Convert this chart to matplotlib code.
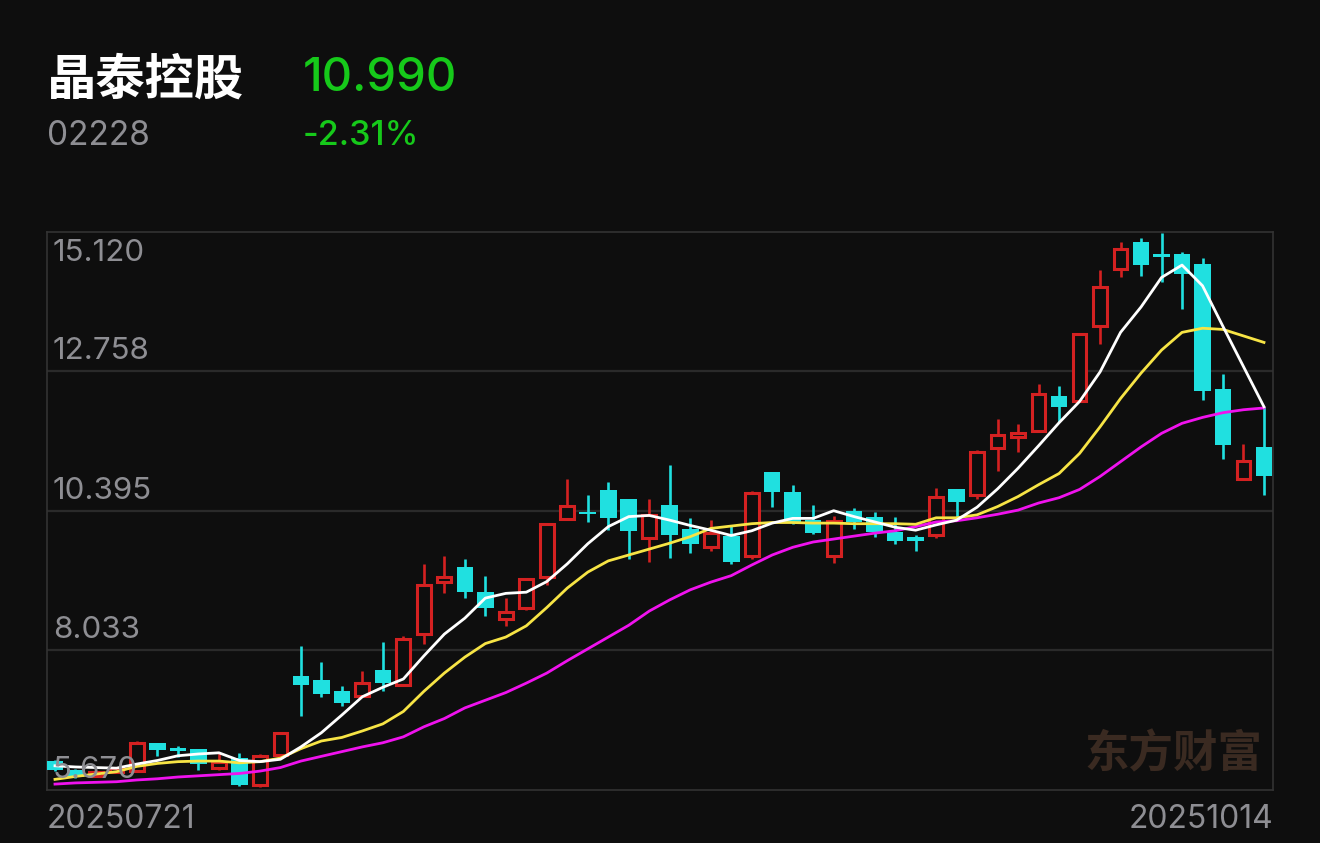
import matplotlib
matplotlib.use("Agg")
import matplotlib.pyplot as plt
from matplotlib.transforms import offset_copy

plt.rcParams["font.family"] = ["Noto Sans CJK SC", "DejaVu Sans"]
NUM_FONT = ["Inter", "DejaVu Sans"]

BG = "#0e0e0e"
RED = "#d42121"
CYAN = "#20e0e0"
GREEN = "#16c91a"
GRAY = "#8e8e93"

stock_name = "晶泰控股"
stock_code = "02228"
last_price = "10.990"
change_pct = "-2.31%"
first_date = "20250721"
last_date = "20251014"

price_ticks = [5.670, 8.033, 10.395, 12.758, 15.120]
tick_labels = ["5.670", "8.033", "10.395", "12.758", "15.120"]

opens = [6.16, 6.01, 5.91, 5.98, 6.00, 6.46, 6.38, 6.36, 6.04, 6.21,
         5.76, 6.26, 7.60, 7.53, 7.35, 7.27, 7.71, 7.45, 8.31, 9.19,
         9.45, 9.02, 8.57, 8.76, 9.28, 10.26, 10.37, 10.75, 10.59, 9.94,
         10.49, 10.09, 9.78, 9.97, 9.64, 11.05, 10.71, 10.24, 9.63, 10.40,
         10.30, 10.04, 9.95, 9.99, 10.77, 10.67, 11.47, 11.64, 11.75, 12.35,
         12.26, 13.52, 14.49, 14.95, 14.74, 14.75, 14.57, 12.46, 10.93, 11.48]
closes = [6.01, 5.89, 5.98, 6.04, 6.47, 6.35, 6.33, 6.11, 6.14, 5.76,
          6.25, 6.64, 7.45, 7.30, 7.15, 7.49, 7.48, 8.22, 9.15, 9.27,
          9.02, 8.76, 8.69, 9.24, 10.18, 10.48, 10.34, 10.28, 10.06, 10.32,
          9.99, 9.84, 10.02, 9.53, 10.70, 10.71, 10.19, 10.03, 10.23, 10.21,
          10.04, 9.89, 9.89, 10.63, 10.55, 11.40, 11.68, 11.71, 12.37, 12.15,
          13.39, 14.19, 14.83, 14.56, 14.70, 14.41, 12.42, 11.51, 11.25, 10.99]
highs = [6.17, 6.02, 6.00, 6.06, 6.50, 6.47, 6.42, 6.37, 6.31, 6.30,
         6.28, 6.65, 8.11, 7.84, 7.43, 7.69, 8.18, 8.27, 9.50, 9.64,
         9.59, 9.30, 8.93, 9.26, 10.19, 10.94, 10.67, 10.88, 10.59, 10.59,
         11.17, 10.28, 10.24, 10.16, 10.74, 11.06, 10.84, 10.50, 10.31, 10.45,
         10.37, 10.29, 9.99, 10.78, 10.77, 11.43, 11.95, 11.86, 12.54, 12.52,
         13.39, 14.47, 14.95, 15.02, 15.10, 14.78, 14.68, 12.72, 11.53, 12.16]
lows = [6.00, 5.87, 5.89, 5.96, 5.99, 6.24, 6.23, 6.01, 6.01, 5.74,
        5.72, 6.25, 6.93, 7.24, 7.10, 7.25, 7.35, 7.43, 8.15, 9.01,
        8.92, 8.61, 8.45, 8.71, 9.14, 10.26, 10.21, 10.07, 9.58, 9.53,
        9.60, 9.68, 9.71, 9.50, 9.59, 10.47, 10.18, 10.00, 9.51, 10.09,
        9.95, 9.84, 9.71, 9.93, 10.30, 10.59, 11.07, 11.39, 11.73, 11.91,
        12.26, 13.22, 14.36, 14.38, 14.27, 13.82, 12.28, 11.28, 10.93, 10.67]

ma5 = [6.08, 6.06, 6.05, 6.04, 6.11, 6.17, 6.25, 6.28, 6.30, 6.17,
       6.15, 6.19, 6.40, 6.64, 6.94, 7.25, 7.41, 7.55, 7.94, 8.31,
       8.58, 8.92, 9.00, 9.02, 9.20, 9.50, 9.84, 10.13, 10.30, 10.32,
       10.24, 10.15, 10.07, 9.98, 10.06, 10.19, 10.27, 10.27, 10.40, 10.30,
       10.21, 10.12, 10.07, 10.16, 10.24, 10.46, 10.77, 11.12, 11.50, 11.89,
       12.25, 12.75, 13.42, 13.85, 14.35, 14.56, 14.21, 13.52, 12.84, 12.16]
ma10 = [5.85, 5.90, 5.94, 5.98, 6.07, 6.12, 6.15, 6.16, 6.16, 6.13,
        6.15, 6.21, 6.37, 6.50, 6.56, 6.67, 6.79, 7.00, 7.34, 7.65,
        7.92, 8.15, 8.26, 8.45, 8.76, 9.09, 9.36, 9.55, 9.65, 9.75,
        9.85, 9.96, 10.10, 10.14, 10.18, 10.20, 10.20, 10.19, 10.19, 10.18,
        10.18, 10.18, 10.17, 10.28, 10.28, 10.33, 10.47, 10.64, 10.84, 11.03,
        11.37, 11.82, 12.30, 12.73, 13.12, 13.42, 13.49, 13.47, 13.36, 13.25]
ma20 = [5.77, 5.79, 5.80, 5.81, 5.84, 5.86, 5.89, 5.91, 5.93, 5.95,
        5.99, 6.05, 6.16, 6.24, 6.32, 6.40, 6.47, 6.57, 6.74, 6.88,
        7.06, 7.19, 7.32, 7.48, 7.65, 7.86, 8.06, 8.26, 8.46, 8.70,
        8.89, 9.06, 9.19, 9.30, 9.48, 9.65, 9.78, 9.87, 9.92, 9.97,
        10.02, 10.06, 10.13, 10.21, 10.23, 10.28, 10.34, 10.41, 10.53, 10.62,
        10.76, 10.98, 11.23, 11.48, 11.71, 11.88, 11.98, 12.06, 12.11, 12.14]

W, H = 1320, 843
fig = plt.figure(figsize=(W / 100, H / 100), dpi=100, facecolor=BG)
ax = fig.add_axes([47 / W, 1 - 790 / H, (1273 - 47) / W, (790 - 232) / H])
ax.set_facecolor(BG)

n = len(closes)
xs = list(range(n))
ax.set_xlim(-0.39, n - 1 + 0.44)
ax.set_ylim(price_ticks[0], price_ticks[-1])

# grid + frame
for t in price_ticks[1:-1]:
    ax.axhline(t, color="#2a2a2a", lw=1.6, zorder=0)
for s in ax.spines.values():
    s.set_color("#333333")
    s.set_linewidth(1.2)
ax.set_xticks([])
ax.set_yticks([])

# candles: red = hollow up day, cyan = filled down day
up = [c >= o for o, c in zip(opens, closes)]
cols = [RED if u else CYAN for u in up]
ax.vlines(xs, lows, highs, colors=cols, lw=1.9, zorder=2)
for i in xs:
    lo = min(opens[i], closes[i])
    h = max(abs(closes[i] - opens[i]), 0.03)
    if up[i]:
        ax.bar(i, h, bottom=lo, width=0.67, facecolor=BG, edgecolor=RED,
               linewidth=2.2, zorder=3)
    else:
        ax.bar(i, h, bottom=lo, width=0.81, facecolor=CYAN, edgecolor="none",
               linewidth=0, zorder=3)

# moving averages
ax.plot(xs, ma20, color="#f012ee", lw=2.0, zorder=4)
ax.plot(xs, ma10, color="#f7e445", lw=2.0, zorder=4)
ax.plot(xs, ma5, color="#ffffff", lw=2.0, zorder=4)

# price labels
ytr = ax.get_yaxis_transform()
for t, lab in zip(price_ticks, tick_labels):
    dy = -21 if t == price_ticks[-1] else 20
    tr = offset_copy(ytr, fig=fig, x=6, y=dy, units="dots")
    ax.text(0, t, lab, transform=tr, ha="left", va="center",
            fontsize=22.5, color=GRAY, family=NUM_FONT, zorder=5)

# watermark
ax.text(0.919, 0.063, "东方财富", transform=ax.transAxes,
        ha="center", va="center", fontsize=32, fontweight="bold",
        color="#3a2a21", zorder=1)

# header
fig.text(47 / W, 1 - 80 / H, stock_name, ha="left", va="center",
         fontsize=35.5, fontweight="bold", color="white")
fig.text(303 / W, 1 - 79 / H, last_price, ha="left", va="center",
         fontsize=34, fontweight="medium", color=GREEN, family=NUM_FONT)
fig.text(47 / W, 1 - 136 / H, stock_code, ha="left", va="center",
         fontsize=24, color=GRAY, family=NUM_FONT)
fig.text(303 / W, 1 - 136 / H, change_pct, ha="left", va="center",
         fontsize=24.5, fontweight="medium", color=GREEN, family=NUM_FONT)

# date labels
fig.text(47 / W, 1 - 820 / H, first_date, ha="left", va="center",
         fontsize=23, color=GRAY, family=NUM_FONT)
fig.text(1273 / W, 1 - 820 / H, last_date, ha="right", va="center",
         fontsize=23, color=GRAY, family=NUM_FONT)

fig.savefig("out.png", dpi=100, facecolor=BG)
